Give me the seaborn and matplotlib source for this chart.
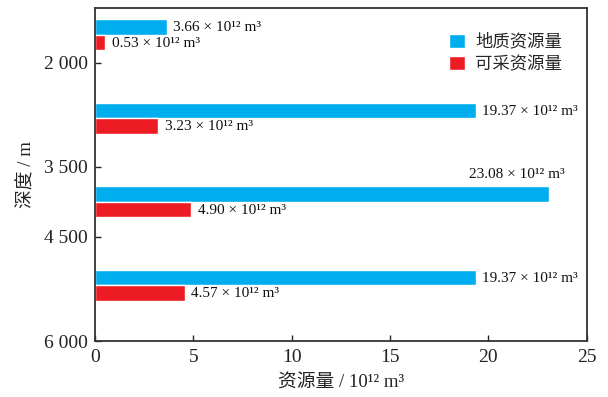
'''
Horizontal bar chart of shale gas resources by burial depth
'''
import pandas as pd
import matplotlib
matplotlib.use('Agg')
import matplotlib.pyplot as plt
import seaborn as sns

# Depth intervals (m) and resources (10^12 m^3)
depth_ranges = ['<2000', '2000-3500', '3500-4500', '4500-6000']
geo_resource = [3.66, 19.37, 23.08, 19.37]
rec_resource = [0.53, 3.23, 4.90, 4.57]
series_names = ['地质资源量', '可采资源量']
series_colors = ['#00aeef', '#ed1c24']

# depth tick labels and their depths
depth_ticks = [2000, 3500, 4500, 6000]
depth_tick_labels = ['2 000', '3 500', '4 500', '6 000']

sns.set_style('ticks')
plt.rcParams['font.family'] = ['Liberation Serif', 'Noto Sans CJK SC']
plt.rcParams['xtick.direction'] = 'in'
plt.rcParams['ytick.direction'] = 'in'
plt.rcParams['axes.linewidth'] = 1.3

df = pd.DataFrame({
    'depth': depth_ranges * 2,
    'value': geo_resource + rec_resource,
    'kind': [series_names[0]] * 4 + [series_names[1]] * 4,
})

fig = plt.figure(figsize=(6.08, 3.97), dpi=100)
ax = fig.add_axes([0.156, 0.141, 0.809, 0.839])

sns.barplot(data=df, x='value', y='depth', hue='kind', orient='h',
            palette=series_colors, width=0.37, saturation=1,
            order=depth_ranges, hue_order=series_names, ax=ax)

# group centres sit at 1600, 2800, 4000, 5200 m -> category units
def depth_to_pos(d):
    return (d - 1600) / 1200

ax.set_yticks([depth_to_pos(d) for d in depth_ticks])
ax.set_yticklabels(depth_tick_labels, fontsize=14)
ax.set_ylim(depth_to_pos(6000), -0.32)
ax.set_xlim(0, 25)
ax.set_xticks([0, 5, 10, 15, 20, 25])
ax.tick_params(axis='x', labelsize=14, length=4, width=1, pad=6, colors='#222222')
ax.tick_params(axis='y', length=4, width=1, pad=5, colors='#222222')
for s in ax.spines.values():
    s.set_color('#333333')

# value labels next to bars
for ci, cont in enumerate(ax.containers):
    for bi, bar in enumerate(cont):
        w = bar.get_width()
        yc = bar.get_y() + bar.get_height() / 2
        txt = f'{w:.2f} × 10¹² m³'
        if w > 22:
            ax.text(w + 0.8, yc - 0.23, txt, ha='right', va='center',
                    fontsize=11, color='#111111')
        else:
            ax.text(w + 0.32, yc + 0.01, txt, ha='left', va='center',
                    fontsize=11, color='#111111')

ax.set_xlabel('资源量 / 10¹² m³', fontsize=13.5, labelpad=6, color='#222222')
ax.set_ylabel('深度 / m', fontsize=13.5, labelpad=6, color='#222222')

ax.legend(frameon=False, loc='upper right', bbox_to_anchor=(0.982, 0.97),
          handlelength=0.9, handleheight=0.9, handletextpad=0.6,
          labelspacing=0.3, fontsize=12.5)

fig.savefig('out.png', dpi=100)
